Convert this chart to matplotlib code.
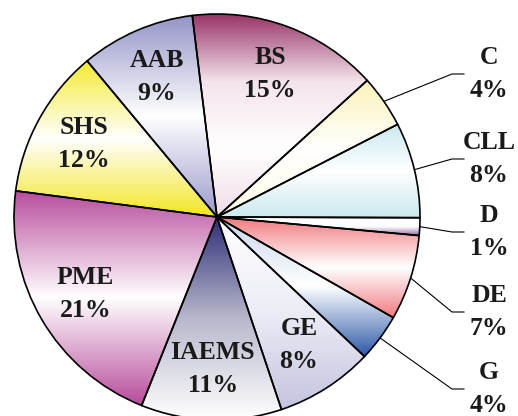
import numpy as np
import matplotlib
matplotlib.use("Agg")
import matplotlib.pyplot as plt
from matplotlib.colors import to_rgb

# slice data, clockwise from the top
names = ["BS", "C", "CLL", "D", "DE", "G", "GE", "IAEMS", "PME", "SHS", "AAB"]
shares = [15.2, 4.2, 7.6, 1.4, 6.8, 3.8, 7.8, 11.2, 21.0, 11.9, 9.1]
pct_labels = ["15%", "4%", "8%", "1%", "7%", "4%", "8%", "11%", "21%", "12%", "9%"]
outside = ["C", "CLL", "D", "DE", "G"]

# vertical gradient stops (top -> bottom) for each slice
gradients = {
    "BS": ["#983468", "#f4e4ec", "#ffffff", "#f0dce6"],
    "C": ["#fbf3b8", "#ffffff", "#fffce8"],
    "CLL": ["#cbe9ef", "#ffffff", "#cbe9ef"],
    "D": ["#ffffff", "#ffffff", "#8a6a98"],
    "DE": ["#f07a80", "#ffffff", "#f07a80"],
    "G": ["#c8d4ec", "#ffffff", "#2e5aa8"],
    "GE": ["#ffffff", "#ececf6", "#c4c4e0"],
    "IAEMS": ["#2e2e78", "#b8b8cc", "#ffffff"],
    "PME": ["#b84c9c", "#ffffff", "#b84c9c"],
    "SHS": ["#f4ea30", "#ffffff", "#f2e624"],
    "AAB": ["#9494c8", "#ffffff", "#9a9acc"],
}

# label block heights (px from top) for the outer labels
outer_y_px = [74, 159, 232, 312, 389]

W, H = 518, 416
cx, cy, R = 217, 217, 203

fig = plt.figure(figsize=(W / 100, H / 100), dpi=100)
ax = fig.add_axes([0, 0, 1, 1])

wedges, _ = ax.pie(shares, startangle=97, counterclock=False, radius=1,
                   wedgeprops=dict(edgecolor="black", linewidth=1.2, facecolor="none"))

for w, name in zip(wedges, names):
    stops = [np.array(to_rgb(c)) for c in gradients[name]]
    ext = w.get_path().get_extents()
    t = np.linspace(0, 1, 200)
    pos = np.linspace(0, 1, len(stops))
    grad = np.stack([np.interp(t, pos, [s[k] for s in stops]) for k in range(3)], axis=-1)
    img = ax.imshow(grad[:, None, :], extent=[ext.x0, ext.x1, ext.y0, ext.y1],
                    origin="upper", aspect="auto", interpolation="bilinear", zorder=0)
    img.set_clip_path(w)

ax.set_xlim(-cx / R, (W - cx) / R)
ax.set_ylim(-(H - cy) / R, cy / R)
ax.axis("off")

font = dict(family="Liberation Serif", weight="bold", fontsize=18.5, color="#1a1a1a",
            linespacing=1.55, ha="center", va="center")

k = 0
for w, name, pct in zip(wedges, names, pct_labels):
    mid = np.deg2rad((w.theta1 + w.theta2) / 2)
    if name in outside:
        ex, ey = np.cos(mid), np.sin(mid)
        ty = (cy - outer_y_px[k]) / R
        k += 1
        ax.plot([ex, (452 - cx) / R, (464 - cx) / R], [ey, ty, ty],
                color="black", lw=0.8, zorder=3)
        ax.text((489 - cx) / R, ty, name + "\n" + pct, **font)
    else:
        r = 0.75
        ax.text(r * np.cos(mid), r * np.sin(mid), name + "\n" + pct, **font)

fig.savefig("out.png", dpi=100)
